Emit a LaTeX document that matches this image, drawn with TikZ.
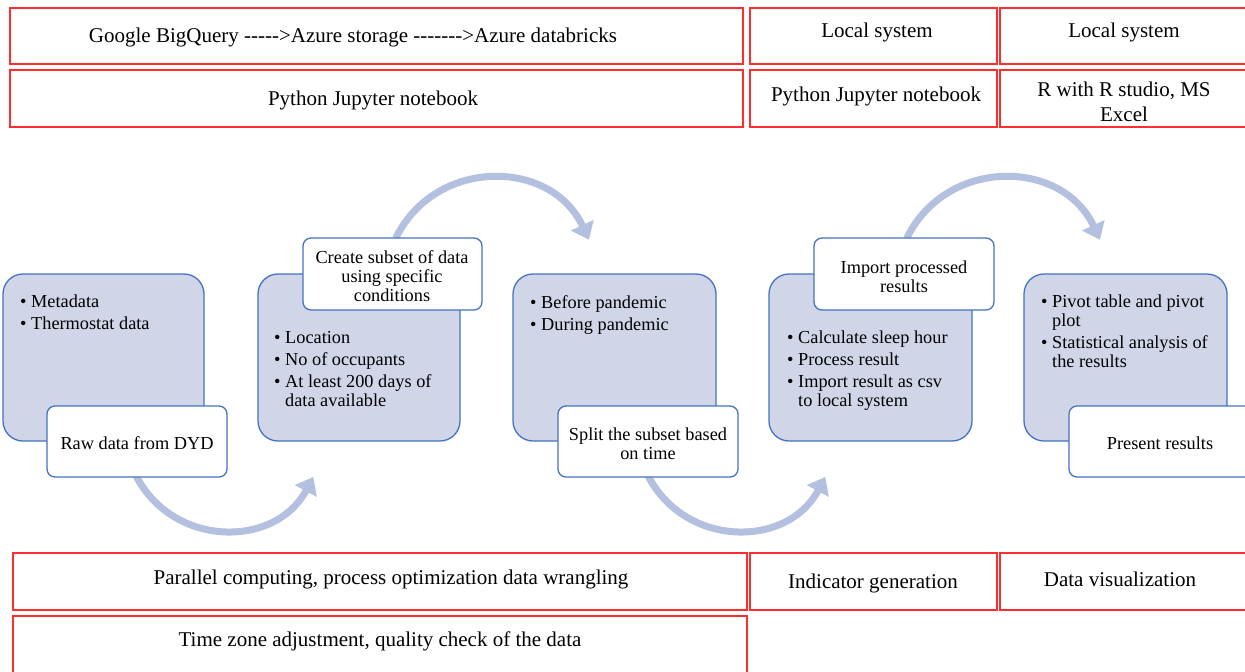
\documentclass[tikz,border=0pt]{standalone}
\usepackage{fontspec}
\setmainfont{Liberation Serif}
\usetikzlibrary{arrows.meta}
\definecolor{redb}{RGB}{255,45,45}
\definecolor{bluefill}{RGB}{208,213,232}
\definecolor{blueline}{RGB}{68,114,196}
\definecolor{arrowc}{RGB}{180,192,224}
\newcommand{\bi}{\makebox[11pt][l]{\textbullet}}
\newcommand{\ci}{\hspace*{11pt}}
\tikzset{
 redbox/.style={draw=redb, line width=1.6pt},
 bigtxt/.style={font=\fontsize{21}{25}\selectfont, inner sep=0pt, align=center},
 bluebox/.style={draw=blueline, fill=bluefill, line width=1.3pt, rounded corners=20pt},
 whitebox/.style={draw=blueline, fill=white, line width=1.3pt, rounded corners=8pt},
 smalltxt/.style={font=\fontsize{18.3}{19}\selectfont, inner sep=0pt, align=center},
 listtxt/.style={font=\fontsize{18.3}{19}\selectfont, inner sep=0pt, align=left, anchor=north west},
 flow/.style={draw=arrowc, line width=7pt, -{Triangle[length=16pt,width=24pt]}},
}
\begin{document}
\begin{tikzpicture}[x=1pt,y=1pt]
\useasboundingbox (0,0) rectangle (1245,-672);
\clip (0,0) rectangle (1245,-672);
% red boxes top
\draw[redbox] (10,-8) rectangle (743,-64);
\draw[redbox] (750,-8) rectangle (997,-64);
\draw[redbox] (1000,-8) rectangle (1252,-64);
\draw[redbox] (10,-70) rectangle (743,-127);
\draw[redbox] (750,-70) rectangle (997,-127);
\draw[redbox] (1000,-70) rectangle (1252,-127);
\node[bigtxt] (t1) at (353,-37) {Google BigQuery -{}-{}-{}-{}->Azure storage -{}-{}-{}-{}-{}-{}->Azure databricks};
\node[bigtxt] (t2) at (877,-32) {Local system};
\node[bigtxt] (t3) at (1124,-32) {Local system};
\node[bigtxt] (t4) at (373,-100) {Python Jupyter notebook};
\node[bigtxt] (t5) at (876,-96) {Python Jupyter notebook};
\node[bigtxt] (t6) at (1124,-102) {R with R studio, MS\\Excel};
% red boxes bottom
\draw[redbox] (13,-553) rectangle (747,-610);
\draw[redbox] (750,-553) rectangle (997,-610);
\draw[redbox] (1000,-553) rectangle (1252,-610);
\draw[redbox] (13,-616) rectangle (747,-680);
\node[bigtxt] (t7) at (391,-579) {Parallel computing, process optimization data wrangling};
\node[bigtxt] (t8) at (873,-583) {Indicator generation};
\node[bigtxt] (t9) at (1120,-579) {Data visualization};
\node[bigtxt] (t10) at (380,-641) {Time zone adjustment, quality check of the data};
% arrows
\coordinate (a1s) at (135.9,-475.4); \coordinate (a1e) at (313.3,-476.9);
\coordinate (a2s) at (395.8,-238.1); \coordinate (a2e) at (589,-239.8);
\coordinate (a3s) at (647.9,-475.4); \coordinate (a3e) at (825.3,-476.9);
\coordinate (a4s) at (906.8,-238.1); \coordinate (a4e) at (1100,-239.8);
\draw[flow] (a1s) to[out=-63,in=-118,looseness=1.17] (a1e);
\draw[flow] (a2s) to[out=64,in=115,looseness=1.19] (a2e);
\draw[flow] (a3s) to[out=-63,in=-118,looseness=1.17] (a3e);
\draw[flow] (a4s) to[out=64,in=115,looseness=1.19] (a4e);
% blue boxes
\draw[bluebox] (3,-274) rectangle (204,-441);
\draw[bluebox] (258,-274) rectangle (460,-441);
\draw[bluebox] (513,-274) rectangle (716,-441);
\draw[bluebox] (769,-274) rectangle (972,-441);
\draw[bluebox] (1024,-274) rectangle (1227,-441);
\node[listtxt] (l1) at (20,-295) {\bi Metadata\\[3pt]\bi Thermostat data};
\node[listtxt] (l2) at (274,-331) {\bi Location\\[3pt]\bi No of occupants\\[3pt]\bi At least 200 days of\\\ci data available};
\node[listtxt] (l3) at (530,-295) {\bi Before pandemic\\[3pt]\bi During pandemic};
\node[listtxt] (l4) at (787,-331) {\bi Calculate sleep hour\\[3pt]\bi Process result\\[3pt]\bi Import result as csv\\\ci to local system};
\node[listtxt] (l5) at (1041,-295) {\bi Pivot table and pivot\\\ci plot\\[3pt]\bi Statistical analysis of\\\ci the results};
% white boxes
\draw[whitebox] (47,-406) rectangle (227,-477);
\draw[whitebox] (303,-238) rectangle (482,-310);
\draw[whitebox] (558,-406) rectangle (738,-477);
\draw[whitebox] (814,-238) rectangle (994,-310);
\draw[whitebox] (1069,-406) rectangle (1256,-477);
\node[smalltxt] (w1) at (137,-443) {Raw data from DYD};
\node[smalltxt] (w2) at (392,-276) {Create subset of data\\using specific\\conditions};
\node[smalltxt] (w3) at (648,-443.5) {Split the subset based\\on time};
\node[smalltxt] (w4) at (904,-276.5) {Import processed\\results};
\node[smalltxt] (w5) at (1160,-443) {Present results};
\end{tikzpicture}
\end{document}
